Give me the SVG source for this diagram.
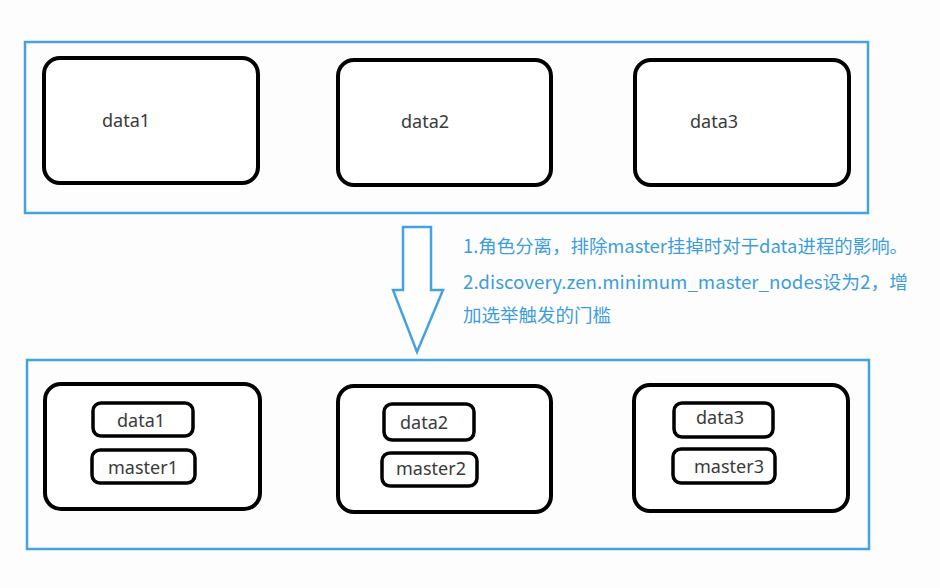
<svg xmlns="http://www.w3.org/2000/svg" width="940" height="588" viewBox="0 0 940 588">
<style>
.cont{fill:none;stroke:#45a2e0;stroke-width:2.5}
.box{fill:#fff;stroke:#000;stroke-width:4}
.inner{fill:#fff;stroke:#000;stroke-width:3.5}
.lbl{font-family:"Noto Sans","Open Sans",sans-serif;font-size:18px;fill:#3a3a3a}
.note{font-family:"Noto Sans CJK SC","Noto Sans",sans-serif;font-size:18.5px;fill:#3d9ddc}
.arrow{fill:#fff;stroke:#45a2e0;stroke-width:2.5;stroke-linejoin:miter}
</style>
<rect width="940" height="588" fill="#fdfdfd"/>
<g id="cluster-before">
<rect class="cont" x="25" y="42" width="843" height="171"/>
</g>
<g id="node-data1-top">
<rect class="box" x="44" y="58" width="214" height="125" rx="16"/>
<text class="lbl" x="102" y="127">data1</text>
</g>
<g id="node-data2-top">
<rect class="box" x="338" y="60" width="213" height="125" rx="16"/>
<text class="lbl" x="401" y="128">data2</text>
</g>
<g id="node-data3-top">
<rect class="box" x="635" y="60" width="214" height="125" rx="16"/>
<text class="lbl" x="690" y="128">data3</text>
</g>
<g id="connectors">
<polygon class="arrow" points="403,227 431,227 431,290 443,290 417,352 393,290 403,290"/>
</g>
<g id="note">
<text class="note" x="463" y="253" textLength="445" lengthAdjust="spacingAndGlyphs">1.角色分离，排除master挂掉时对于data进程的影响。</text>
<text class="note" x="463" y="289" textLength="445" lengthAdjust="spacingAndGlyphs">2.discovery.zen.minimum_master_nodes设为2，增</text>
<text class="note" x="463" y="322">加选举触发的门槛</text>
</g>
<g id="cluster-after">
<rect class="cont" x="27" y="360" width="842" height="189"/>
</g>
<g id="node-1">
<rect class="box" x="45" y="384" width="215" height="125" rx="16"/>
<rect class="inner" x="93" y="403" width="100" height="33" rx="8"/>
<text class="lbl" x="117" y="427">data1</text>
<rect class="inner" x="92" y="450" width="103" height="33" rx="8"/>
<text class="lbl" x="108" y="474">master1</text>
</g>
<g id="node-2">
<rect class="box" x="338" y="386" width="213" height="126" rx="16"/>
<rect class="inner" x="384" y="404" width="90" height="36" rx="8"/>
<text class="lbl" x="400" y="429">data2</text>
<rect class="inner" x="382" y="453" width="95" height="33" rx="8"/>
<text class="lbl" x="396" y="475">master2</text>
</g>
<g id="node-3">
<rect class="box" x="634" y="385" width="214" height="126" rx="16"/>
<rect class="inner" x="674" y="403" width="99" height="34" rx="8"/>
<text class="lbl" x="696" y="424">data3</text>
<rect class="inner" x="673" y="449" width="102" height="34" rx="8"/>
<text class="lbl" x="694" y="473">master3</text>
</g>
</svg>
